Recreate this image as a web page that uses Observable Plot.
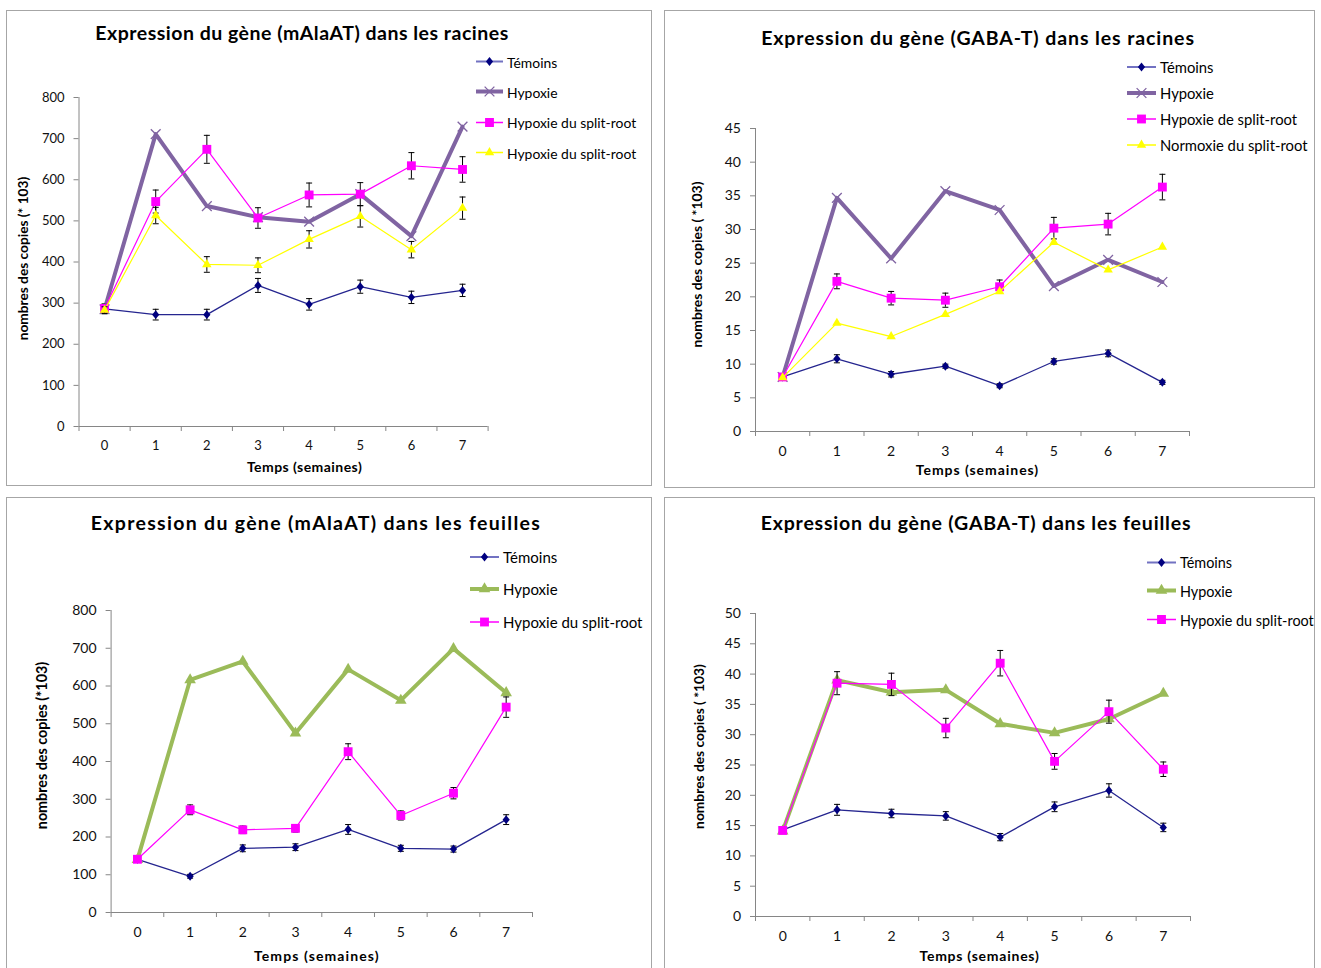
<!DOCTYPE html>
<html><head><meta charset="utf-8">
<script src="https://cdn.jsdelivr.net/npm/d3@7"></script>
<script src="https://cdn.jsdelivr.net/npm/@observablehq/plot@0.6"></script>
<style>
html,body{margin:0;padding:0;background:#fff;}
body{width:1321px;height:968px;overflow:hidden;position:relative;font-family:Lato,"Open Sans",sans-serif;}
.panel{position:absolute;border:1px solid #a6a6a6;box-sizing:border-box;}
.plotwrap{position:absolute;}
.title{position:absolute;transform:translate(-50%,-50%);font-weight:bold;white-space:nowrap;color:#000;}
.leg{position:absolute;display:flex;align-items:center;white-space:nowrap;transform:translateY(-50%);color:#000;}
.leg svg{display:block;}
</style></head><body>
<script>
// ---------- data ----------
const weeks = [0, 1, 2, 3, 4, 5, 6, 7];
const xBounds = [-0.5, 0.5, 1.5, 2.5, 3.5, 4.5, 5.5, 6.5, 7.5];
const yTicksMalaat = [0, 100, 200, 300, 400, 500, 600, 700, 800];
const yTicksGabaRacines = [0, 5, 10, 15, 20, 25, 30, 35, 40, 45];
const yTicksGabaFeuilles = [0, 5, 10, 15, 20, 25, 30, 35, 40, 45, 50];

// mAlaAT racines
const racMalaatTemoins = [286, 272, 272, 343, 297, 340, 314, 331];
const racMalaatTemoinsErr = [12, 13, 13, 17, 14, 16, 15, 15];
const racMalaatHypoxie = [285, 711, 536, 509, 498, 565, 463, 729];
const racMalaatSplit = [287, 547, 674, 507, 563, 565, 634, 625];
const racMalaatSplitErr = [10, 28, 34, 25, 29, 28, 32, 31];
const racMalaatSplit2 = [283, 513, 394, 392, 455, 511, 430, 531];
const racMalaatSplit2Err = [8, 20, 19, 18, 21, 26, 20, 27];

// GABA-T racines
const racGabaTemoins = [8.1, 10.8, 8.5, 9.7, 6.8, 10.4, 11.6, 7.3];
const racGabaTemoinsErr = [0.3, 0.6, 0.4, 0.3, 0.3, 0.4, 0.5, 0.3];
const racGabaHypoxie = [8.1, 34.7, 25.7, 35.7, 32.9, 21.6, 25.5, 22.2];
const racGabaSplit = [8.1, 22.3, 19.8, 19.5, 21.5, 30.2, 30.8, 36.3];
const racGabaSplitErr = [0.3, 1.1, 1.0, 1.05, 1.0, 1.6, 1.6, 1.9];
const racGabaNormoxie = [8.0, 16.1, 14.1, 17.4, 20.8, 28.1, 24.0, 27.4];

// mAlaAT feuilles
const feuMalaatTemoins = [141, 96, 170, 173, 220, 170, 168, 246];
const feuMalaatTemoinsErr = [6, 5, 9, 9, 13, 8, 8, 13];
const feuMalaatHypoxie = [140, 616, 665, 475, 644, 562, 699, 582];
const feuMalaatSplit = [141, 272, 219, 223, 426, 257, 316, 544];
const feuMalaatSplitErr = [5, 13, 10, 10, 21, 12, 15, 27];

// GABA-T feuilles
const feuGabaTemoins = [14.3, 17.6, 17.0, 16.6, 13.1, 18.1, 20.8, 14.7];
const feuGabaTemoinsErr = [0.5, 0.9, 0.7, 0.7, 0.6, 0.8, 1.1, 0.7];
const feuGabaHypoxie = [14.1, 39.0, 37.0, 37.4, 31.8, 30.3, 32.6, 36.8];
const feuGabaSplit = [14.2, 38.5, 38.3, 31.1, 41.8, 25.6, 33.8, 24.3];
const feuGabaSplitErr = [0.5, 1.9, 1.85, 1.6, 2.1, 1.3, 1.9, 1.2];

// ---------- styles ----------
const GRAY = "#868686";
const diamond = {draw(ctx, size) {
  const r = Math.sqrt(size / Math.PI);
  ctx.moveTo(0, -r * 1.12); ctx.lineTo(r * 0.9, 0); ctx.lineTo(0, r * 1.12); ctx.lineTo(-r * 0.9, 0); ctx.closePath();
}};
const cap = {draw(ctx, size) {
  const w = Math.sqrt(size / Math.PI);
  ctx.moveTo(-w, 0); ctx.lineTo(w, 0);
}};
const STY = {
  temoins: {line: "#25258f", lw: 1.3, fill: "#00007f", symbol: diamond, r: 4, legLine: "#7272c2", legLw: 2},
  hypoxieX: {line: "#8064a2", lw: 4, stroke: "#8064a2", symbol: "times", r: 4.5, legLine: "#8064a2", legLw: 4},
  hypoxieTri: {line: "#9bbb59", lw: 4, fill: "#9bbb59", symbol: "triangle", r: 4.3, legLine: "#9bbb59", legLw: 4},
  split: {line: "#ff00ff", lw: 1.2, fill: "#ff00ff", symbol: "square", r: 5, legLine: "#ff00ff", legLw: 1.5},
  normoxie: {line: "#ffff00", lw: 1.2, fill: "#ffff00", symbol: "triangle", r: 3.5, legLine: "#ffff00", legLw: 1.5}
};

const FONT = 'Lato, "Open Sans", sans-serif';

const panels = [
  {
    box: {x: 6, y: 10, w: 646, h: 476},
    plot: {l: 78.5, r: 487.6, t: 97, b: 426},
    yMax: 800, yTicks: yTicksMalaat, tickFont: 13, tickPad: 14.5,
    title: "Expression du gène (mAlaAT) dans les racines", tcx: 302, tcy: 31.5, tsize: 19.5, tls: 0.5,
    ylabel: "nombres des copies (* 103)", ydx: -55, ydy: -3.5, ySize: 13.7,
    xlabel: "Temps (semaines)", xdx: 21, xdy: 41, xSize: 14, xls: 0.45,
    leg: {x: 476, tx: 507, size: 13.9, rows: [61.7, 91.5, 122.2, 152.5]},
    series: [
      {name: "Témoins", v: racMalaatTemoins, e: racMalaatTemoinsErr, s: STY.temoins},
      {name: "Hypoxie", v: racMalaatHypoxie, s: STY.hypoxieX},
      {name: "Hypoxie du split-root", v: racMalaatSplit, e: racMalaatSplitErr, s: STY.split},
      {name: "Hypoxie du split-root", v: racMalaatSplit2, e: racMalaatSplit2Err, s: STY.normoxie}
    ]
  },
  {
    box: {x: 664, y: 10, w: 651, h: 478},
    plot: {l: 755, r: 1189, t: 128, b: 431},
    yMax: 45, yTicks: yTicksGabaRacines, tickFont: 14, tickPad: 14.5,
    title: "Expression du gène (GABA-T) dans les racines", tcx: 978, tcy: 36.5, tsize: 19.5, tls: 0.9,
    ylabel: "nombres des copies ( *103)", ydx: -58, ydy: -15.5, ySize: 13.9,
    xlabel: "Temps (semaines)", xdx: 5, xdy: 39, xSize: 14, xls: 0.95,
    leg: {x: 1127, tx: 1160, size: 14.8, rows: [67, 93, 118.7, 144.7]},
    series: [
      {name: "Témoins", v: racGabaTemoins, e: racGabaTemoinsErr, s: STY.temoins},
      {name: "Hypoxie", v: racGabaHypoxie, s: STY.hypoxieX},
      {name: "Hypoxie de split-root", v: racGabaSplit, e: racGabaSplitErr, s: STY.split},
      {name: "Normoxie du split-root", v: racGabaNormoxie, s: STY.normoxie}
    ]
  },
  {
    box: {x: 6, y: 497, w: 646, h: 480},
    plot: {l: 110.6, r: 532, t: 610, b: 912},
    yMax: 800, yTicks: yTicksMalaat, tickFont: 14, tickPad: 15,
    title: "Expression du gène (mAlaAT) dans les feuilles", tcx: 316, tcy: 522, tsize: 19.5, tls: 1.3,
    ylabel: "nombres des copies (*103)", ydx: -69, ydy: -16, ySize: 14.3,
    xlabel: "Temps (semaines)", xdx: -5, xdy: 44, xSize: 14, xls: 1.1,
    leg: {x: 470, tx: 503, size: 15, rows: [557, 588.7, 622]},
    series: [
      {name: "Témoins", v: feuMalaatTemoins, e: feuMalaatTemoinsErr, s: STY.temoins},
      {name: "Hypoxie", v: feuMalaatHypoxie, s: STY.hypoxieTri},
      {name: "Hypoxie du split-root", v: feuMalaatSplit, e: feuMalaatSplitErr, s: STY.split}
    ]
  },
  {
    box: {x: 664, y: 497, w: 651, h: 480},
    plot: {l: 755, r: 1190, t: 613, b: 916},
    yMax: 50, yTicks: yTicksGabaFeuilles, tickFont: 14, tickPad: 15,
    title: "Expression du gène (GABA-T) dans les feuilles", tcx: 976, tcy: 522, tsize: 19.5, tls: 0.8,
    ylabel: "nombres des copies ( *103)", ydx: -56, ydy: -18.5, ySize: 13.8,
    xlabel: "Temps (semaines)", xdx: 6.5, xdy: 40, xSize: 14, xls: 0.75,
    leg: {x: 1147, tx: 1180, size: 14.4, rows: [562.2, 590.5, 619.5]},
    series: [
      {name: "Témoins", v: feuGabaTemoins, e: feuGabaTemoinsErr, s: STY.temoins},
      {name: "Hypoxie", v: feuGabaHypoxie, s: STY.hypoxieTri},
      {name: "Hypoxie du split-root", v: feuGabaSplit, e: feuGabaSplitErr, s: STY.split}
    ]
  }
];

function dotMark(rows, s) {
  if (s.stroke) return Plot.dot(rows, {x: "t", y: "v", symbol: s.symbol, r: s.r, stroke: s.stroke, strokeWidth: 1.3, fill: "none"});
  return Plot.dot(rows, {x: "t", y: "v", symbol: s.symbol, r: s.r, fill: s.fill, stroke: "none"});
}

function build(p) {
  const border = document.createElement("div");
  border.className = "panel";
  Object.assign(border.style, {left: p.box.x + "px", top: p.box.y + "px", width: p.box.w + "px", height: p.box.h + "px"});
  document.body.appendChild(border);

  const marks = [
    Plot.ruleY([0], {stroke: GRAY, strokeWidth: 1}),
    Plot.ruleX([-0.5], {stroke: GRAY, strokeWidth: 1}),
    Plot.axisY(p.yTicks, {tickSize: 5, stroke: GRAY, tickFormat: () => "", label: null}),
    Plot.axisY(p.yTicks, {tickSize: 0, tickPadding: 14.5, fontSize: p.tickFont, fill: "#111", label: null}),
    Plot.axisX(xBounds, {tickSize: 5, stroke: GRAY, tickFormat: () => "", label: null}),
    Plot.axisX(weeks, {tickSize: 0, tickPadding: p.tickPad, fontSize: p.tickFont, fill: "#111", label: null, tickFormat: d => String(d)})
  ];
  for (const se of p.series) {
    const rows = weeks.map((t, i) => ({t, v: se.v[i], e: se.e ? se.e[i] : 0}));
    marks.push(Plot.line(rows, {x: "t", y: "v", stroke: se.s.line, strokeWidth: se.s.lw, strokeLinejoin: "round"}));
    if (se.e) {
      marks.push(Plot.ruleX(rows, {x: "t", y1: d => d.v - d.e, y2: d => d.v + d.e, stroke: "#000", strokeWidth: 1}));
      marks.push(Plot.dot(rows, {x: "t", y: d => d.v + d.e, symbol: cap, r: 3, stroke: "#000", fill: "none", strokeWidth: 1}));
      marks.push(Plot.dot(rows, {x: "t", y: d => d.v - d.e, symbol: cap, r: 3, stroke: "#000", fill: "none", strokeWidth: 1}));
    }
    marks.push(dotMark(rows, se.s));
  }
  marks.push(Plot.text([p.ylabel], {text: d => d, frameAnchor: "left", textAnchor: "middle", lineAnchor: "middle", rotate: -90, dx: p.ydx, dy: p.ydy, fontWeight: "bold", fontSize: p.ySize, fill: "#000"}));
  marks.push(Plot.text([p.xlabel], {text: d => d, frameAnchor: "bottom", textAnchor: "middle", lineAnchor: "middle", dx: p.xdx, dy: p.xdy, fontWeight: "bold", fontSize: p.xSize, fill: "#000"}));

  const svg = Plot.plot({
    width: p.box.w, height: p.box.h,
    marginLeft: p.plot.l - p.box.x, marginRight: p.box.x + p.box.w - p.plot.r,
    marginTop: p.plot.t - p.box.y, marginBottom: p.box.y + p.box.h - p.plot.b,
    x: {type: "linear", domain: [-0.5, 7.5]},
    y: {type: "linear", domain: [0, p.yMax]},
    style: {fontFamily: FONT, background: "transparent", color: "#111", overflow: "visible"},
    marks
  });
  d3.select(svg).selectAll("text").filter(function () { return this.textContent === p.xlabel; })
    .style("letter-spacing", p.xls + "px");
  const wrap = document.createElement("div");
  wrap.className = "plotwrap";
  Object.assign(wrap.style, {left: p.box.x + "px", top: p.box.y + "px"});
  wrap.appendChild(svg);
  document.body.appendChild(wrap);

  const t = document.createElement("div");
  t.className = "title";
  t.textContent = p.title;
  Object.assign(t.style, {left: p.tcx + "px", top: p.tcy + "px", fontSize: p.tsize + "px", letterSpacing: p.tls + "px"});
  document.body.appendChild(t);

  p.series.forEach((se, i) => {
    const row = document.createElement("div");
    row.className = "leg";
    Object.assign(row.style, {left: p.leg.x + "px", top: p.leg.rows[i] + "px", fontSize: p.leg.size + "px"});
    const w = p.leg.tx - p.leg.x - 4;
    const sv = d3.create("svg").attr("width", w).attr("height", 14);
    sv.append("line").attr("x1", 0).attr("x2", w).attr("y1", 7).attr("y2", 7)
      .attr("stroke", se.s.legLine).attr("stroke-width", se.s.legLw);
    const symType = typeof se.s.symbol === "string"
      ? {times: d3.symbolTimes, triangle: d3.symbolTriangle, square: d3.symbolSquare}[se.s.symbol]
      : se.s.symbol;
    const path = d3.symbol(symType, se.s.r * se.s.r * Math.PI)();
    const pe = sv.append("path").attr("d", path).attr("transform", `translate(${w / 2},7)`);
    if (se.s.stroke) pe.attr("fill", "none").attr("stroke", se.s.stroke).attr("stroke-width", 1.3);
    else pe.attr("fill", se.s.fill);
    row.appendChild(sv.node());
    const sp = document.createElement("span");
    sp.style.marginLeft = "4px";
    sp.textContent = se.name;
    row.appendChild(sp);
    document.body.appendChild(row);
  });
}

panels.forEach(build);
</script>
</body></html>
